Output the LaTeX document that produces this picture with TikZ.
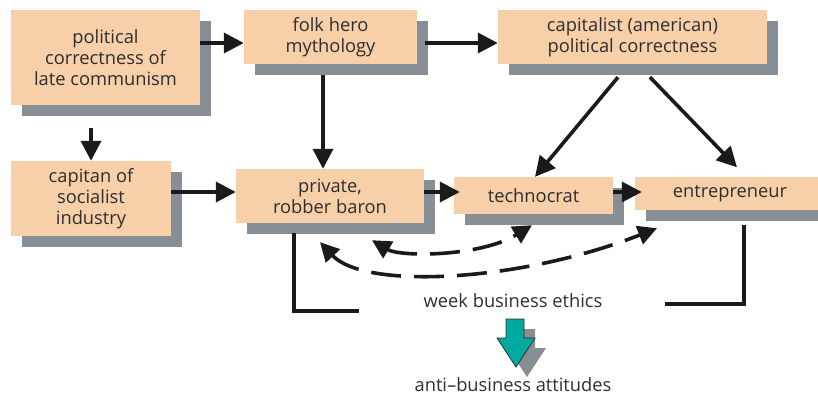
\documentclass[tikz,border=0pt]{standalone}
\usepackage{fontspec}
\setmainfont{Open Sans}
\usetikzlibrary{arrows.meta,shadows,calc}
\definecolor{boxfill}{HTML}{F7CFA8}
\definecolor{shadowc}{HTML}{878E96}
\definecolor{txt}{HTML}{2E2E2E}
\definecolor{linec}{HTML}{1A1A1A}
\definecolor{tealc}{HTML}{00AA9E}
\begin{document}
\begin{tikzpicture}[x=1pt,y=-1pt,
  box/.style={fill=boxfill, draw=none, align=center, text=txt, inner sep=0pt,
    font=\fontsize{18.3}{21}\selectfont,
    general shadow={fill=shadowc, shadow xshift=11pt, shadow yshift=-11pt}},
  lbl/.style={text=txt, inner sep=0pt, font=\fontsize{18.3}{21}\selectfont},
  arr/.style={line width=3.6pt, draw=linec, -{Triangle[length=20pt,width=20pt]}},
  darr/.style={line width=3.6pt, draw=linec, dash pattern=on 30pt off 13pt,
    {Triangle[length=19pt,width=19pt]}-{Triangle[length=19pt,width=19pt]}},
  brk/.style={line width=3.6pt, draw=linec, line cap=butt},
]
\useasboundingbox (0,0) rectangle (818,394);

\node[box, minimum width=189pt, minimum height=95pt] (pc) at (105.5,57.5) {political\\correctness of\\late communism};
\node[box, minimum width=173pt, minimum height=54pt] (fh) at (330.5,37) {folk hero\\mythology};
\node[box, minimum width=269pt, minimum height=54pt] (cap) at (632.5,37) {capitalist (american)\\political correctness};
\node[box, minimum width=160pt, minimum height=75pt] (cs) at (91,198.5) {capitan of\\socialist\\industry};
\node[box, minimum width=188pt, minimum height=54pt] (rb) at (330,196) {private,\\robber baron};
\node[box, minimum width=159pt, minimum height=37pt] (tc) at (533.5,195.5) {technocrat};
\node[box, minimum width=190pt, minimum height=33pt] (en) at (730,193.5) {entrepreneur};

% solid arrows
\draw[arr] ([yshift=-6pt]fh.west -| pc.east) -- ([yshift=-6pt]fh.west);
\draw[arr] ([shift={(8,6)}]fh.east) -- ([yshift=-6pt]cap.west);
\draw[arr] ([shift={(-7.5,11)}]fh.south) -- ([xshift=-7pt]rb.north);
\draw[arr] ([shift={(-14.5,23)}]pc.south) -- (cs.north);
\draw[arr] ([yshift=6.5pt]cs.east) -- ([yshift=4pt]rb.west);
\draw[arr] ([yshift=4pt]rb.east) -- ([shift={(6,-3.5)}]tc.west);
\draw[arr] ([yshift=3.5pt]tc.east) -- ([shift={(7,-1.5)}]en.west);
\draw[arr] ([shift={(-14.5,13)}]cap.south) -- ([xshift=1.5pt]tc.north);
\draw[arr] ([shift={(17.5,13)}]cap.south) -- ([shift={(7,-9.5)}]en.north);

% dashed double arrows
\draw[darr] ([shift={(42,17)}]rb.south) .. controls (400,257) and (480,257) .. ([shift={(-1.5,11)}]tc.south);
\draw[darr] ([shift={(-10,19)}]rb.south) .. controls (365,290) and (520,282) .. ([shift={(-73,18)}]en.south);

% brackets
\coordinate (lb) at (359,311);
\coordinate (rk) at (665,304);
\draw[brk] ([shift={(-36,10)}]rb.south) |- (lb);
\draw[brk] ([shift={(14,15)}]en.south) |- (rk);

\node[lbl, anchor=base] (wbe) at (513,307) {week business ethics};
\node[lbl, anchor=base] (anti) at (513,391) {anti–business attitudes};

% block arrow
\begin{scope}[shift={(11,10)}]
\fill[shadowc] (506,319) -- (524,319) -- (524,338) -- (535,338) -- (516,367) -- (497,338) -- (506,338) -- cycle;
\end{scope}
\draw[fill=tealc, draw=txt, line width=0.8pt, line join=miter] (506,319) -- (524,319) -- (524,338) -- (535,338) -- (516,367) -- (497,338) -- (506,338) -- cycle;
\end{tikzpicture}
\end{document}
